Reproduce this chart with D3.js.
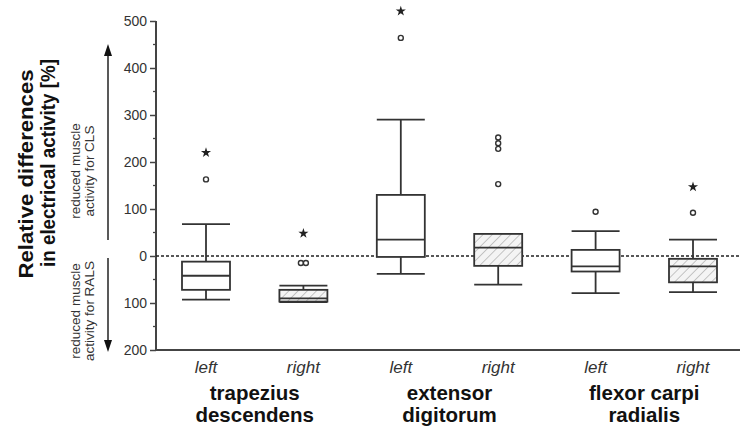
<!DOCTYPE html>
<html>
<head>
<meta charset="utf-8">
<script src="https://cdn.jsdelivr.net/npm/d3@7"></script>
<style>
  body { margin: 0; background: #fff; }
  text { font-family: "Liberation Sans", Arial, sans-serif; }
</style>
</head>
<body>
<script>
// Data
const boxIds = ["TD-L", "TD-R", "ED-L", "ED-R", "FCR-L", "FCR-R"];
const sides = ["left", "right", "left", "right", "left", "right"];
const muscles = [["trapezius", "descendens"], ["extensor", "digitorum"], ["flexor carpi", "radialis"]];
const whiskerLow = [-93, -98, -38, -61, -79, -77];
const q1 = [-72, -97, -2, -21, -33, -56];
const median = [-42, -90, 35, 18, -22, -22];
const q3 = [-12, -72, 130, 47, 13, -6];
const whiskerHigh = [68, -63, 290, 47, 53, 35];
const hatched = [false, true, false, true, false, true];
const outliers = [[163], [-15, -15], [464], [252, 240, 228, 153], [94], [92]];
const stars = [220, 48, 521, null, null, 147];
const yTicks = [-200, -100, 0, 100, 200, 300, 400, 500];
const yMinorTicks = [-150, -50, 50, 150, 250, 350, 450];

const width = 740, height = 438;
const axisX = 156;
const ink = "#333";

const svg = d3.select("body").append("svg")
  .attr("width", width)
  .attr("height", height);

// Hatch pattern for the right-side boxes
const pat = svg.append("defs").append("pattern")
  .attr("id", "hatch")
  .attr("patternUnits", "userSpaceOnUse")
  .attr("width", 6.5)
  .attr("height", 6.5)
  .attr("patternTransform", "rotate(45)");
pat.append("rect").attr("width", 6.5).attr("height", 6.5).attr("fill", "#f4f4f4");
pat.append("line")
  .attr("x1", 0).attr("y1", 0).attr("x2", 0).attr("y2", 6.5)
  .attr("stroke", "#b8b8b8").attr("stroke-width", 1.6);

// Scales
const y = d3.scaleLinear().domain([-200, 500]).range([350, 21]);
const x = d3.scalePoint().domain(boxIds).range([206, 693]);
const boxW = 48;

// Y axis
const yAxis = svg.append("g")
  .attr("transform", `translate(${axisX},0)`)
  .call(d3.axisLeft(y).tickValues(yTicks).tickSize(6).tickPadding(3)
    .tickFormat(d => Math.abs(d)));
yAxis.select(".domain").remove();
yAxis.selectAll(".tick line").attr("stroke", "#444").attr("stroke-width", 1.5);
yAxis.selectAll(".tick text")
  .attr("fill", ink)
  .style("font-size", "14px")
  .style("font-family", "'Liberation Sans', Arial, sans-serif");

svg.append("g")
  .selectAll("line")
  .data(yMinorTicks)
  .join("line")
  .attr("x1", axisX - 3).attr("x2", axisX)
  .attr("y1", d => y(d)).attr("y2", d => y(d))
  .attr("stroke", "#444").attr("stroke-width", 1.3);

// Axis lines
svg.append("line")
  .attr("x1", axisX).attr("x2", axisX)
  .attr("y1", y(500)).attr("y2", y(-200) + 1)
  .attr("stroke", "#444").attr("stroke-width", 2);
svg.append("line")
  .attr("x1", axisX).attr("x2", width)
  .attr("y1", y(-200)).attr("y2", y(-200))
  .attr("stroke", "#444").attr("stroke-width", 2);

// Zero reference line
svg.append("line")
  .attr("x1", axisX).attr("x2", width)
  .attr("y1", y(0)).attr("y2", y(0))
  .attr("stroke", "#222").attr("stroke-width", 1.5)
  .attr("stroke-dasharray", "3,2");

// Boxes
const boxes = svg.append("g")
  .selectAll("g")
  .data(boxIds.map((id, i) => ({ id, i })))
  .join("g")
  .attr("stroke", ink)
  .attr("stroke-width", 1.8);

boxes.append("line") // whisker stem
  .attr("x1", d => x(d.id)).attr("x2", d => x(d.id))
  .attr("y1", d => y(whiskerLow[d.i])).attr("y2", d => y(whiskerHigh[d.i]));

boxes.selectAll(".cap")
  .data(d => [whiskerLow[d.i], whiskerHigh[d.i]].map(v => ({ id: d.id, v })))
  .join("line")
  .attr("class", "cap")
  .attr("x1", d => x(d.id) - boxW / 2).attr("x2", d => x(d.id) + boxW / 2)
  .attr("y1", d => y(d.v)).attr("y2", d => y(d.v));

boxes.append("rect")
  .attr("x", d => x(d.id) - boxW / 2)
  .attr("width", boxW)
  .attr("y", d => y(q3[d.i]))
  .attr("height", d => y(q1[d.i]) - y(q3[d.i]))
  .attr("fill", d => hatched[d.i] ? "url(#hatch)" : "#fff");

boxes.append("line") // median
  .attr("x1", d => x(d.id) - boxW / 2).attr("x2", d => x(d.id) + boxW / 2)
  .attr("y1", d => y(median[d.i])).attr("y2", d => y(median[d.i]));

// Outliers (repeated values sit side by side)
boxes.selectAll("circle")
  .data(d => outliers[d.i].map((v, k, arr) => {
    const same = arr.filter(u => u === v);
    const idx = arr.slice(0, k).filter(u => u === v).length;
    return { id: d.id, v, off: (idx - (same.length - 1) / 2) * 5 };
  }))
  .join("circle")
  .attr("cx", d => x(d.id) + d.off)
  .attr("cy", d => y(d.v))
  .attr("r", 2.5)
  .attr("fill", "#fff")
  .attr("stroke-width", 1.4);

// Significance stars
svg.append("g")
  .selectAll("path")
  .data(boxIds.map((id, i) => ({ id, v: stars[i] })).filter(d => d.v !== null))
  .join("path")
  .attr("d", d3.symbol(d3.symbolStar, 32))
  .attr("transform", d => `translate(${x(d.id)},${y(d.v)})`)
  .attr("fill", "#222");

// Side labels under each box
svg.append("g")
  .selectAll("text")
  .data(boxIds.map((id, i) => ({ id, s: sides[i] })))
  .join("text")
  .attr("x", d => x(d.id))
  .attr("y", 373)
  .attr("text-anchor", "middle")
  .style("font-size", "17px")
  .style("font-style", "italic")
  .attr("fill", ink)
  .text(d => d.s);

// Muscle names, centred under each pair
const muscleG = svg.append("g")
  .selectAll("text")
  .data(muscles)
  .join("text")
  .attr("text-anchor", "middle")
  .style("font-size", "20.5px")
  .style("font-weight", "bold")
  .attr("fill", "#111");
muscleG.selectAll("tspan")
  .data((d, j) => d.map((line, k) => ({ line, k, j })))
  .join("tspan")
  .attr("x", d => (x(boxIds[2 * d.j]) + x(boxIds[2 * d.j + 1])) / 2)
  .attr("y", d => 400 + d.k * 22)
  .text(d => d.line);

// Y axis title
const title = svg.append("g").attr("fill", "#111")
  .style("font-weight", "bold").style("font-size", "21px");
title.append("text")
  .attr("transform", "translate(33,174) rotate(-90)")
  .attr("text-anchor", "middle")
  .attr("textLength", 209)
  .attr("lengthAdjust", "spacingAndGlyphs")
  .text("Relative differences");
title.append("text")
  .attr("transform", "translate(55,163) rotate(-90)")
  .attr("text-anchor", "middle")
  .attr("textLength", 208)
  .attr("lengthAdjust", "spacingAndGlyphs")
  .text("in electrical activity [%]");

// Direction notes
const notes = [
  { cy: 171, lines: ["reduced muscle", "activity for CLS"] },
  { cy: 311, lines: ["reduced muscle", "activity for RALS"] }
];
notes.forEach(n => {
  n.lines.forEach((line, k) => {
    svg.append("text")
      .attr("transform", `translate(${80 + k * 14},${n.cy}) rotate(-90)`)
      .attr("text-anchor", "middle")
      .style("font-size", "13.5px")
      .attr("fill", ink)
      .text(line);
  });
});

// Arrows
const arrowX = 108;
svg.append("line")
  .attr("x1", arrowX).attr("x2", arrowX).attr("y1", 240).attr("y2", 54)
  .attr("stroke", "#222").attr("stroke-width", 1.5);
svg.append("line")
  .attr("x1", arrowX).attr("x2", arrowX).attr("y1", 258).attr("y2", 342)
  .attr("stroke", "#222").attr("stroke-width", 1.5);
svg.append("path")
  .attr("d", `M${arrowX},44 L${arrowX - 4},56 L${arrowX + 4},56 Z`)
  .attr("fill", "#111");
svg.append("path")
  .attr("d", `M${arrowX},352 L${arrowX - 4},340 L${arrowX + 4},340 Z`)
  .attr("fill", "#111");
</script>
</body>
</html>
